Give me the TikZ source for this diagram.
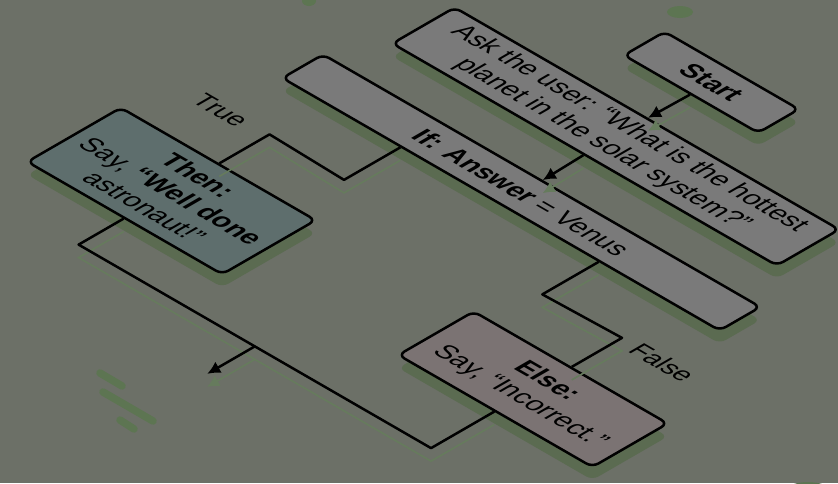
\documentclass[tikz,border=0pt]{standalone}
\usepackage{fontspec}
\setmainfont{Liberation Sans}
\usetikzlibrary{arrows.meta,calc}
\definecolor{bgcol}{HTML}{6C7067}
\definecolor{boxgray}{HTML}{7A7A7A}
\definecolor{thencol}{HTML}{5E6E6D}
\definecolor{elsecol}{HTML}{7B7373}
\definecolor{shadegreen}{HTML}{5B6B51}
\definecolor{lineshade}{HTML}{667B5D}
\definecolor{decogreen}{HTML}{5D7552}
\tikzstyle{box} = [draw, line width=2.5pt, rounded corners=7pt, fill=boxgray, inner sep=0pt, align=center, font=\fontsize{27}{31}\selectfont, preaction={fill=shadegreen, draw=none, transform canvas={yshift=-13pt}}]
\tikzstyle{link} = [draw, line width=2.5pt, line join=round, preaction={draw=lineshade, line width=1.6pt, transform canvas={yshift=-13pt}}]
\tikzstyle{arrowlink} = [draw, line width=2.5pt, -{Latex[length=13pt,width=13pt]}, preaction={draw=lineshade, line width=1.6pt, -{Latex[length=12pt,width=12pt]}, transform canvas={yshift=-13pt}}]
\tikzstyle{lbl} = [font=\fontsize{26}{30}\selectfont]
\tikzset{>=latex}

\begin{document}
\begin{tikzpicture}[x=1pt,y=1pt]
  \fill[bgcol] (0,0) rectangle (838,-483);
  \useasboundingbox (0,0) rectangle (838,-483);
  % green spots and strokes
  \fill[decogreen] (680,-12) ellipse (13 and 6);
  \fill[decogreen] (309,-1) ellipse (7 and 5);
  \fill[decogreen] (808,-489) ellipse (20 and 7);
  \draw[decogreen, line width=7.5pt, line cap=round] (100,-373) -- (122,-386);
  \draw[decogreen, line width=7.5pt, line cap=round] (103,-392) -- (153,-421);
  \draw[decogreen, line width=7.5pt, line cap=round] (120,-420) -- (134,-429);
  % flow chart on the isometric plane
  \begin{scope}[cm={0.866,-0.5,0.866,0.5,(0,0)}, transform shape]
    \node[box, minimum width=155pt, minimum height=47pt] (start) at (493,328.5) {\textbf{Start}};
    \node[box, minimum width=444pt, minimum height=72pt] (ask) at (492,219) {Ask the user: “What is the hottest\\planet in the solar system?”};
    \node[box, minimum width=505pt, minimum height=47pt] (ifbox) at (493.5,108.5) {\textbf{If: Answer} = Venus};
    \node[box, fill=thencol, minimum width=225pt, minimum height=108pt] (thenbox) at (290,-92) {\textbf{Then:}\\Say, \textbf{“Well done}\\astronaut!”};
    \node[box, fill=elsecol, minimum width=224pt, minimum height=87pt] (elsebox) at (697,-81.5) {\textbf{Else:}\\Say, “Incorrect.”};
    \node[lbl] (truelbl) at (238,17) {True};
    \node[lbl] (falselbl) at (745,20) {False};

    \draw[arrowlink] (start.south) -- (ask.north);
    \draw[arrowlink] (ask.south) -- (ifbox.north);
    \draw[link] ($(ifbox.south)+(-115,0)$) -- ++(0,-65) -- ($(thenbox.north)+(0,58)$) -- (thenbox.north);
    \draw[link] ($(ifbox.south)+(114,0)$) -- ++(0,-65) -- ($(elsebox.north)+(0,58)$) -- (elsebox.north);
    \draw[link] (thenbox.south) -- ++(0,-52) coordinate (mleft) -- ($(elsebox.south)+(0,-73)$) coordinate (mright) -- (elsebox.south);
    \draw[arrowlink] ($(mleft)!0.5!(mright)$) -- ++(0,-55);
  \end{scope}
\end{tikzpicture}
\end{document}
